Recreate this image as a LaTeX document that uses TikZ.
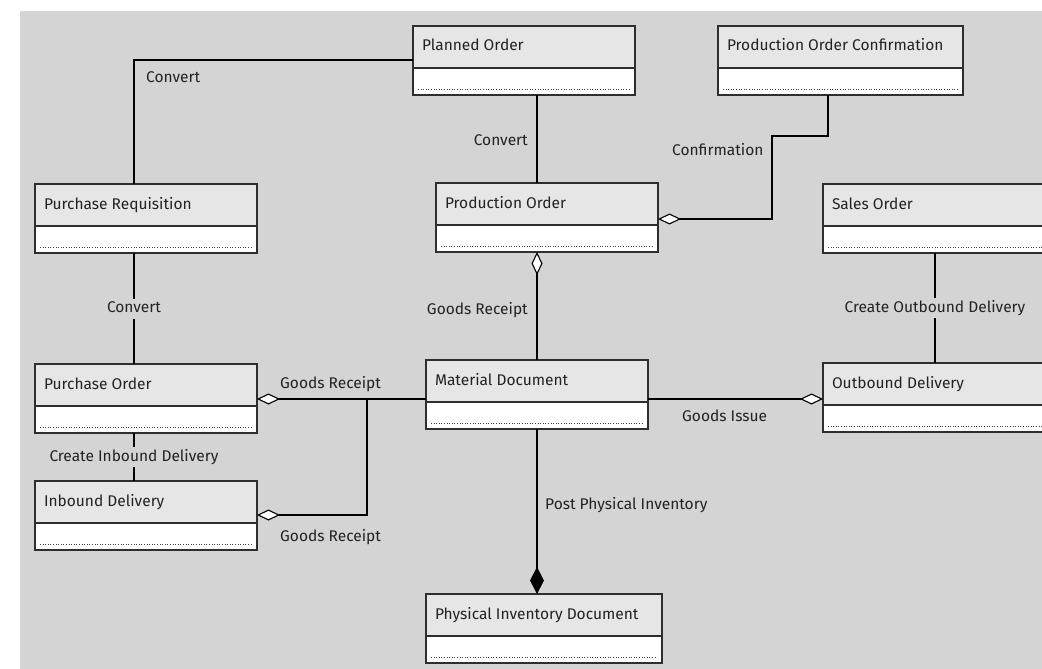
\documentclass[tikz,border=0pt]{standalone}
\usepackage{fontspec}
\setmainfont{Fira Sans}
\usetikzlibrary{arrows.meta}
\definecolor{canvas}{HTML}{D4D4D4}
\definecolor{headfill}{HTML}{E6E6E6}
\definecolor{ink}{HTML}{222222}
\definecolor{frame}{HTML}{2E2E2E}

% class box: name, left x, top y, width, title
\newcommand\umlclass[5]{%
  \node[classhead, minimum width=#4pt] (#1) at (#2,#3)
    {\makebox[\dimexpr#4pt-18pt\relax][l]{#5}};
  \node[classbody, minimum width=#4pt] (#1-c) at (#1.south west) {};
  \draw[attrdots] ([xshift=5pt,yshift=6pt]#1-c.south west)
    -- ([xshift=-5pt,yshift=6pt]#1-c.south east);
}

\begin{document}
\begin{tikzpicture}[x=1pt,y=-1pt,
  font=\fontsize{15.5}{18}\selectfont,
  classhead/.style={draw=frame, line width=1.2pt, fill=headfill, text=ink,
    anchor=north west, outer sep=0pt, minimum height=42pt, inner xsep=9pt,
    inner ysep=0pt, text height=11pt, text depth=3pt},
  classbody/.style={draw=frame, line width=1.2pt, fill=white,
    anchor=north west, outer sep=0pt, minimum height=27pt, inner sep=0pt},
  attrdots/.style={draw=black!75, line width=0.8pt, dash pattern=on 1pt off 1.6pt},
  conn/.style={draw=black, line width=1.4pt},
  agg/.style={conn, {Diamond[length=23pt, width=11pt, fill=white, line width=1.1pt]}-},
  compo/.style={conn, -{Diamond[length=27pt, width=14pt]}},
  lbl/.style={text=ink, inner sep=1pt, text height=11pt, text depth=3pt},
  lblbg/.style={lbl, fill=canvas, inner sep=3pt},
]
\useasboundingbox (0,0) rectangle (1042,669);
\clip (0,0) rectangle (1042,669);
\fill[white] (0,0) rectangle (1042,669);
\fill[canvas] (20,11) rectangle (1042,669);

% classes
\umlclass{plan}{413}{26}{222}{Planned Order}
\umlclass{poc}{718}{26}{245}{Production Order Confirmation}
\umlclass{preq}{35}{184}{222}{Purchase Requisition}
\umlclass{prod}{436}{183}{222}{Production Order}
\umlclass{so}{823}{184}{240}{Sales Order}
\umlclass{po}{35}{364}{222}{Purchase Order}
\umlclass{mat}{426}{360}{222}{Material Document}
\umlclass{od}{823}{363}{240}{Outbound Delivery}
\umlclass{inb}{35}{481}{222}{Inbound Delivery}
\umlclass{pid}{426}{594}{236}{Physical Inventory Document}

% routing guides
\coordinate (lspine) at (134,0);
\coordinate (mspine) at (537,0);
\coordinate (cspine) at (828,0);
\coordinate (rspine) at (935,0);
\coordinate (grx) at (367,0);
\coordinate (cfx) at (772,0);
\coordinate (cvy) at (0,60);
\coordinate (cfb) at (0,219);
\coordinate (cft) at (0,136);
\coordinate (gry) at (0,399);
\coordinate (iny) at (0,515);

% connectors
\draw[conn] (plan.west |- cvy) -| (lspine |- preq.north);
\draw[conn] (lspine |- preq-c.south) -- node[lblbg] (l-conv3) {Convert} (lspine |- po.north);
\draw[conn] (lspine |- po-c.south) -- node[lblbg] (l-cid) {Create Inbound Delivery} (lspine |- inb.north);
\draw[conn] (mspine |- plan-c.south) -- (mspine |- prod.north);
\draw[agg] (prod.east |- cfb) -| (cfx |- cft) -| (cspine |- poc-c.south);
\draw[agg] (mspine |- prod-c.south) -- (mspine |- mat.north);
\draw[agg] (po.east |- gry) -- (mat.west |- gry);
\draw[agg] (inb.east |- iny) -| (grx |- gry);
\draw[agg] (od.west |- gry) -- (mat.east |- gry);
\draw[compo] (mspine |- mat-c.south) -- (mspine |- pid.north);
\draw[conn] (rspine |- so-c.south) -- node[lblbg] (l-cod) {Create Outbound Delivery} (rspine |- od.north);

% connector labels
\node[lbl, anchor=west] (l-conv1) at (145,79) {Convert};
\node[lbl, anchor=east] (l-conv2) at (529,141) {Convert};
\node[lbl, anchor=west] (l-conf) at (671,151) {Confirmation};
\node[lbl, anchor=east] (l-gr1) at (529,310) {Goods Receipt};
\node[lbl, anchor=west] (l-gr2) at (279,384) {Goods Receipt};
\node[lbl, anchor=west] (l-gr3) at (279,537) {Goods Receipt};
\node[lbl, anchor=west] (l-gi) at (681,417) {Goods Issue};
\node[lbl, anchor=west] (l-ppi) at (544,505) {Post Physical Inventory};
\end{tikzpicture}
\end{document}
